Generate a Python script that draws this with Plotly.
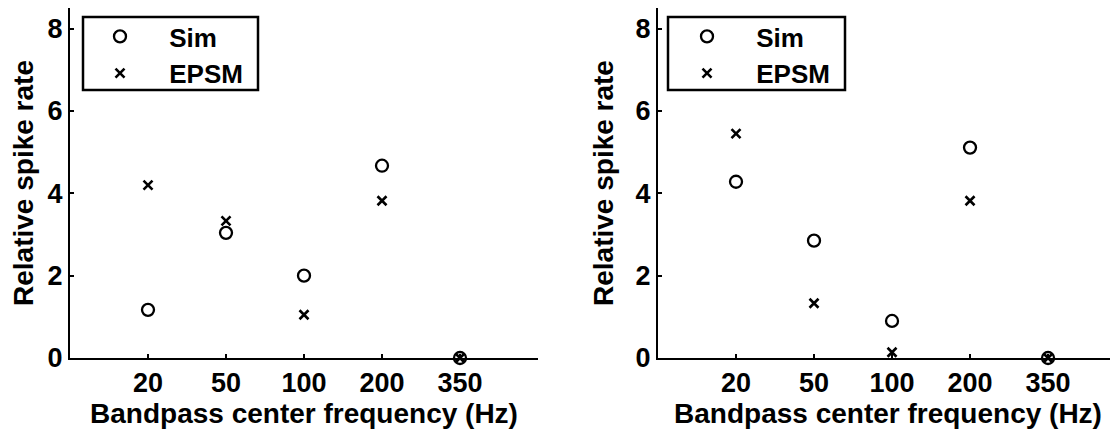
import plotly.graph_objects as go

# ---- data ----
freqs = ["20", "50", "100", "200", "350"]
sim_left = [1.17, 3.04, 2.00, 4.67, 0.0]
epsm_left = [4.20, 3.33, 1.05, 3.82, 0.0]
sim_right = [4.28, 2.85, 0.90, 5.11, 0.0]
epsm_right = [5.45, 1.33, 0.14, 3.82, 0.0]
series_names = ["Sim", "EPSM"]

# The page body adds an 8px offset; lay out in reference pixels minus 8
OFF = 8
W, H = 1118 - OFF, 430 - OFF

def px(x):
    return (x - OFF) / W

def py(y):
    return 1 - (y - OFF) / H

FAM = "Liberation Sans, Arial, sans-serif"
TICKFONT = dict(family=FAM, size=27, color="black", weight="bold")
TITLEFONT = dict(family=FAM, size=28, color="black", weight="bold")
LEGFONT = dict(family=FAM, size=26, color="black", weight="bold")

fig = go.Figure()

def add_pair(sim, epsm, xa, ya, leg):
    fig.add_trace(go.Scatter(
        x=freqs, y=sim, mode="markers", name="\u00a0" + series_names[0],
        xaxis=xa, yaxis=ya, legend=leg,
        marker=dict(symbol="circle-open", size=12, color="black", line=dict(width=2.3, color="black")),
        cliponaxis=False,
    ))
    fig.add_trace(go.Scatter(
        x=freqs, y=epsm, mode="markers", name="\u00a0" + series_names[1],
        xaxis=xa, yaxis=ya, legend=leg,
        marker=dict(symbol="x-thin-open", size=9, color="black", line=dict(width=2.6, color="black")),
        cliponaxis=False,
    ))

add_pair(sim_left, epsm_left, "x", "y", "legend")
add_pair(sim_right, epsm_right, "x2", "y2", "legend2")

y_dom = [py(358), 1.0]

axis_common = dict(
    showline=True, linecolor="black", linewidth=2,
    ticks="inside", ticklen=4, tickwidth=2, tickcolor="black",
    showgrid=False, zeroline=False, tickfont=TICKFONT, automargin=False,
)

xcommon = dict(axis_common, type="category", categoryorder="array", categoryarray=freqs,
               title=dict(text="Bandpass center frequency (Hz)", font=TITLEFONT, standoff=2))
ycommon = dict(axis_common, range=[0, 8.5], tickvals=[0, 2, 4, 6, 8], domain=y_dom,
               title=dict(text="Relative spike rate", font=TITLEFONT, standoff=14))

legend_common = dict(xanchor="left", yanchor="top", borderwidth=0,
                     bgcolor="rgba(0,0,0,0)", font=LEGFONT, itemwidth=74, tracegroupgap=0)

fig.update_layout(
    width=W, height=H,
    margin=dict(l=0, r=0, t=0, b=0),
    paper_bgcolor="white", plot_bgcolor="white",
    showlegend=True,
    xaxis=dict(xcommon, domain=[px(70), px(538)], range=[-1, 5], anchor="y"),
    yaxis=dict(ycommon, anchor="x"),
    xaxis2=dict(xcommon, domain=[px(658), 1.0], range=[-1, 4.897], anchor="y2"),
    yaxis2=dict(ycommon, anchor="x2"),
    legend=dict(legend_common, x=px(78), y=py(13)),
    legend2=dict(legend_common, x=px(665), y=py(13)),
    shapes=[
        dict(type="rect", xref="paper", yref="paper", x0=px(83), x1=px(258), y0=py(17), y1=py(90),
             line=dict(color="black", width=2.5), fillcolor="rgba(0,0,0,0)", layer="above"),
        dict(type="rect", xref="paper", yref="paper", x0=px(668), x1=px(845), y0=py(17), y1=py(90),
             line=dict(color="black", width=2.5), fillcolor="rgba(0,0,0,0)", layer="above"),
    ],
)

fig.write_html("out.html")
